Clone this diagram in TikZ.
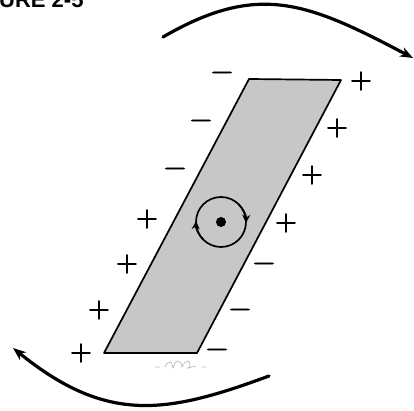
\documentclass[tikz,border=0pt]{standalone}
\usepackage{fontspec}
\newfontfamily\capfont{Liberation Sans}
\newfontfamily\signfont[FakeBold=2.5]{Latin Modern Roman}
\usetikzlibrary{arrows.meta}

\begin{document}
\begin{tikzpicture}[
  x=1pt, y=-1pt,
  >=Stealth,
  sign/.style={inner sep=0pt, font=\signfont\fontsize{30}{30}\selectfont},
  plate/.style={draw, line width=1.7pt, fill=black!22, line join=round},
  swing/.style={-{Stealth[length=13pt,width=10pt]}, line width=3.2pt, line cap=round},
  spin/.style={line width=1.7pt}
]
\useasboundingbox (0,0) rectangle (414,411);
\clip (0,0) rectangle (414,411);

\node[anchor=base west, inner sep=0pt, font=\capfont\bfseries\fontsize{22}{22}\selectfont] (cap) at (-1,8) {URE 2-5};

\coordinate (tl) at (249,79);
\coordinate (tr) at (341,80);
\coordinate (br) at (197,353);
\coordinate (bl) at (104,353);
\draw[plate] (tl) -- (tr) -- (br) -- (bl) -- cycle;

\node[sign] (ml1) at (222,76) {−};
\node[sign] (ml2) at (201,124) {−};
\node[sign] (ml3) at (175,172) {−};
\node[sign] (pl1) at (147,219) {+};
\node[sign] (pl2) at (127,264) {+};
\node[sign] (pl3) at (99,310) {+};
\node[sign] (pl4) at (81,353) {+};

\node[sign] (pr1) at (361,81) {+};
\node[sign] (pr2) at (337,128) {+};
\node[sign] (pr3) at (312,175) {+};
\node[sign] (pr4) at (286,223) {+};
\node[sign] (mr1) at (264,267) {−};
\node[sign] (mr2) at (240,313) {−};
\node[sign] (mr3) at (217,353) {−};

\coordinate (axis) at (221,222);
\draw[spin] (axis) circle[radius=25];
\fill (axis) circle[radius=5];
\draw[spin, -{Stealth[length=8pt,width=8pt]}] (axis) ++(135:25) arc[start angle=135, end angle=182, radius=25];
\draw[spin, -{Stealth[length=8pt,width=8pt]}] (axis) ++(-45:25) arc[start angle=-45, end angle=2, radius=25];

\coordinate (ta) at (163,37);
\coordinate (tb) at (413,58);
\coordinate (ba) at (269,376);
\coordinate (bb) at (13,348);
\draw[swing] (ta) .. controls (258,-18) and (307,2) .. (tb);
\draw[swing] (ba) .. controls (166,414) and (107,424) .. (bb);

\draw[gray!55, line width=0.7pt] (155,367) -- (160,367)
  (165,367) to[out=60,in=180] (170,362) to[out=0,in=120] (173,368)
  to[out=60,in=180] (178,361) to[out=0,in=90] (182,367)
  to[out=60,in=180] (188,361) to[out=0,in=0] (188,368) -- (196,366)
  (202,367) -- (206,367);
\end{tikzpicture}
\end{document}
